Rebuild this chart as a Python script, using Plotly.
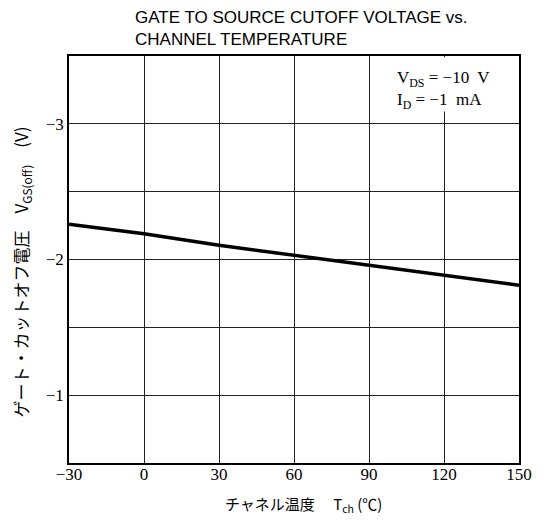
import plotly.graph_objects as go

# Data
temperature_c = [-30, 0, 30, 60, 90, 120, 150]
vgs_off_v = [-2.26, -2.19, -2.105, -2.03, -1.955, -1.88, -1.81]

x_ticks = [-30, 0, 30, 60, 90, 120, 150]
x_tick_text = ["−30", "0", "30", "60", "90", "120", "150"]
y_ticks = [-3, -2.5, -2, -1.5, -1]
y_tick_text = ["−3", "", "−2", "", "−1"]

title_text = "GATE TO SOURCE CUTOFF VOLTAGE vs.<br>CHANNEL TEMPERATURE"
cond_text = "V<sub>DS</sub> = −10  V<br>I<sub>D</sub> = −1  mA"
x_title = "チャネル温度　 T<sub>ch</sub> (℃)"
y_title = "ゲート・カットオフ電圧　V<sub>GS(off)</sub>　(V)"

serif = "Liberation Serif, Times New Roman, serif"
cjk = "Noto Sans CJK JP, sans-serif"
sans = "Liberation Sans Narrow, Liberation Sans, Arial, sans-serif"

fig = go.Figure()
fig.add_trace(go.Scatter(
    x=temperature_c, y=vgs_off_v, mode="lines",
    line=dict(color="black", width=3.5), showlegend=False,
))

# page body has an 8px margin, so the figure is 8px smaller than the window
fig.update_layout(
    width=536, height=513,
    margin=dict(l=61, r=25, t=48, b=58),
    paper_bgcolor="white", plot_bgcolor="white",
    xaxis=dict(
        range=[-30, 150], tickvals=x_ticks, ticktext=x_tick_text,
        showgrid=True, gridcolor="#222", gridwidth=1,
        showline=True, linecolor="black", linewidth=1.5, mirror=True,
        ticks="", zeroline=False, ticklabelstandoff=-5,
        tickfont=dict(family=serif, size=17, color="black"),
    ),
    yaxis=dict(
        range=[-0.5, -3.5], tickvals=y_ticks, ticktext=y_tick_text,
        showgrid=True, gridcolor="#222", gridwidth=1,
        showline=True, linecolor="black", linewidth=1.5, mirror=True,
        ticks="", zeroline=False,
        tickfont=dict(family=serif, size=17, color="black"),
    ),
)

# white area behind condition text (hides the 120 gridline)
fig.add_shape(type="rect", xref="x", yref="y", x0=91.5, x1=149.3, y0=-3.49, y1=-3.09,
              fillcolor="white", line=dict(width=0), layer="above")

fig.add_annotation(text=cond_text, xref="paper", yref="paper",
                   x=0.725, y=0.975, xanchor="left", yanchor="top", showarrow=False,
                   align="left", font=dict(family=serif, size=17, color="black"))

fig.add_annotation(text=title_text, xref="paper", yref="paper",
                   x=0.142, y=1.122, xanchor="left", yanchor="top", showarrow=False,
                   align="left", font=dict(family=sans, size=17, color="black"))

fig.add_annotation(text=x_title, xref="paper", yref="paper",
                   x=0.52, y=-0.103, xanchor="center", yanchor="middle", showarrow=False,
                   font=dict(family=cjk, size=15, color="black"))

fig.add_annotation(text=y_title, xref="paper", yref="paper",
                   x=-0.105, y=0.47, xanchor="center", yanchor="middle", showarrow=False,
                   textangle=-90, font=dict(family=cjk, size=17, color="black"))

fig.write_html("out.html")
